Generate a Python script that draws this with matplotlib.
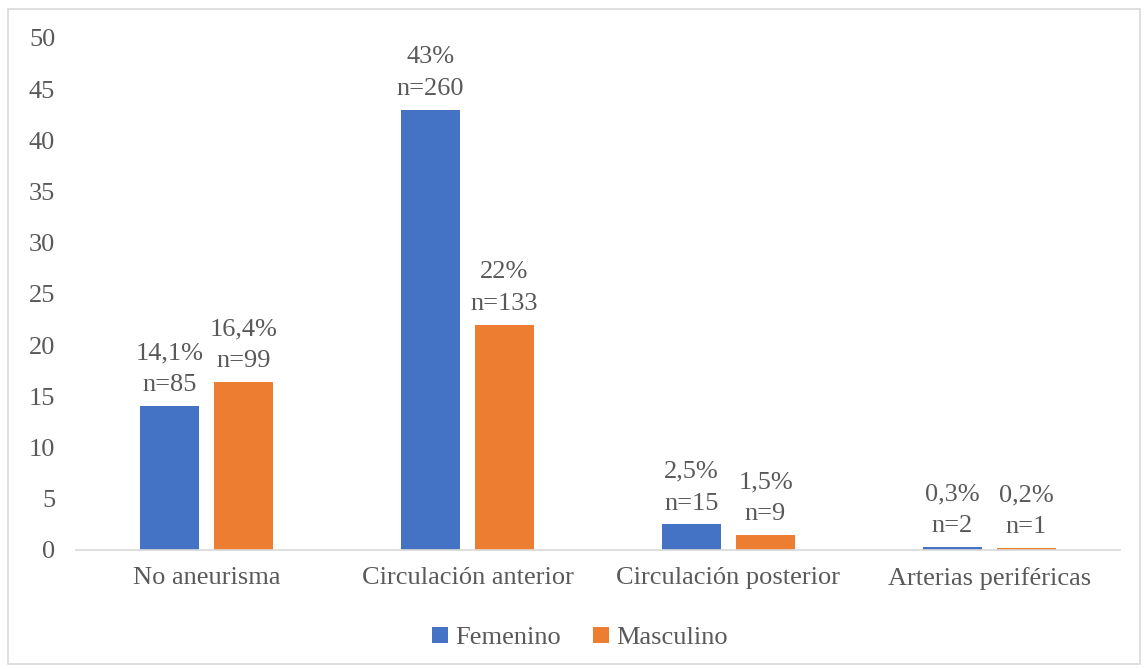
import matplotlib.pyplot as plt
import numpy as np
from matplotlib.patches import Rectangle

categories = ["No aneurisma", "Circulación anterior", "Circulación posterior", "Arterias periféricas"]
femenino = [14.1, 43.0, 2.5, 0.3]
masculino = [16.4, 22.0, 1.5, 0.2]
fem_labels = ["14,1%\nn=85", "43%\nn=260", "2,5%\nn=15", "0,3%\nn=2"]
mas_labels = ["16,4%\nn=99", "22%\nn=133", "1,5%\nn=9", "0,2%\nn=1"]

plt.rcParams["font.family"] = ["Liberation Serif", "DejaVu Serif"]
txt = "#595959"
blue = "#4472C4"
orange = "#ED7D31"
fs = 19

fig = plt.figure(figsize=(11.45, 6.69), dpi=100)
# chart-area border
fig.patches.append(Rectangle((8 / 1145, 5 / 669), 1132 / 1145, 655 / 669,
                             transform=fig.transFigure, fill=False,
                             edgecolor="#d9d9d9", linewidth=1.2))

ax = fig.add_axes([76 / 1145, 1 - 550 / 669, 1044 / 1145, 512 / 669])
x = np.arange(len(categories))
w = 0.226
off = 0.142
b1 = ax.bar(x - off, femenino, w, color=blue, label="Femenino")
b2 = ax.bar(x + off, masculino, w, color=orange, label="Masculino")

for bars, labels in [(b1, fem_labels), (b2, mas_labels)]:
    for b, lab in zip(bars, labels):
        ax.annotate(lab, (b.get_x() + b.get_width() / 2, b.get_height()),
                    xytext=(0, 7), textcoords="offset points",
                    ha="center", va="bottom", fontsize=fs, color=txt,
                    linespacing=1.58)

ax.set_xlim(-0.5, len(categories) - 0.5)
ax.set_ylim(0, 50)
ax.set_yticks(range(0, 51, 5))
ax.set_xticks(x)
ax.set_xticklabels(categories)
ax.tick_params(axis="both", length=0, labelsize=fs, labelcolor=txt)
ax.tick_params(axis="x", pad=12)
ax.tick_params(axis="y", pad=15)
for s in ["top", "right", "left"]:
    ax.spines[s].set_visible(False)
ax.spines["bottom"].set_color("#d9d9d9")
ax.spines["bottom"].set_linewidth(1.2)

fig.legend(loc="center", bbox_to_anchor=(580 / 1145, 1 - 638 / 669), ncol=2,
           frameon=False, fontsize=fs, labelcolor=txt, handlelength=0.6,
           handleheight=0.6, handletextpad=0.3, columnspacing=1.2)

fig.savefig("out.png", dpi=100)
